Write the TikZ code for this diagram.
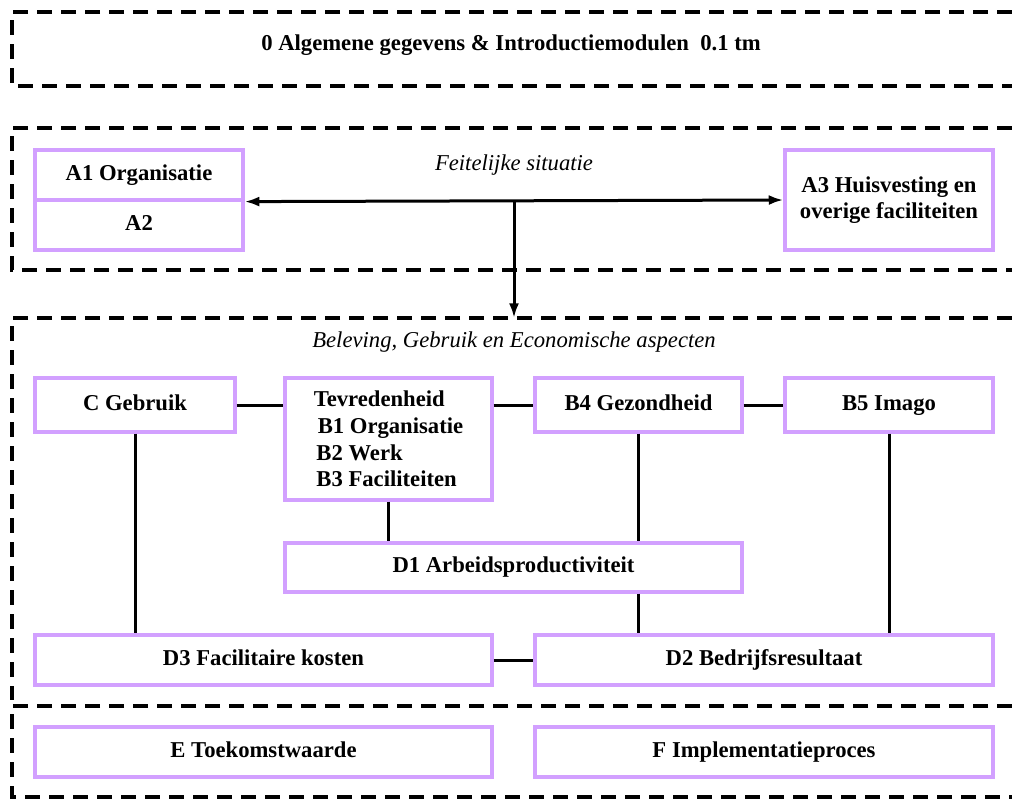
\documentclass[tikz,border=0pt]{standalone}
\usepackage{fontspec}
\setmainfont{Liberation Serif}
\usetikzlibrary{arrows.meta}
\definecolor{boxpurple}{RGB}{210,160,255}

\begin{document}
\begin{tikzpicture}[x=0.75pt,y=-0.75pt,
    font=\fontsize{17}{20}\selectfont,
    frame/.style={line width=3pt,dash pattern=on 11pt off 7pt},
    mbox/.style={draw=boxpurple,line width=2.4pt,rectangle,inner sep=0pt,
                 align=center,font=\fontsize{17}{20}\selectfont\bfseries},
    one/.style={mbox,text height=11.5pt,text depth=3.5pt},
    link/.style={line width=2.25pt},
    tip/.style={line width=2.25pt,#1},
    note/.style={font=\fontsize{17}{20}\selectfont\itshape}]
    \useasboundingbox (0,0) rectangle (1012,801);

    % frames
    \draw[frame] (1012,12) -- (12,12) -- (12,86) -- (1012,86);
    \draw[frame] (1012,128) -- (12,128) -- (12,270) -- (1012,270);
    \draw[frame] (1012,318) -- (12,318) -- (12,700);
    \draw[frame] (1012,706) -- (12,706) -- (12,797) -- (1012,797);

    \node[font=\fontsize{17}{20}\selectfont\bfseries] (title) at (511,45)
        {0 Algemene gegevens \& Introductiemodulen\ \ 0.1 tm};

    % feitelijke situatie
    \node[one,minimum width=208*0.75pt,minimum height=50*0.75pt] (A1) at (139,175) {A1 Organisatie};
    \node[one,minimum width=208*0.75pt,minimum height=50*0.75pt] (A2) at (139,225) {A2};
    \node[mbox,minimum width=208*0.75pt,minimum height=100*0.75pt] (A3) at (889,200)
        {A3 Huisvesting en\\overige faciliteiten};
    \node[note] (feit) at (514,165) {Feitelijke situatie};
    \coordinate (fb) at (514,318);

    \draw[tip={{Latex[length=11pt,width=7.5pt]}-{Latex[length=11pt,width=7.5pt]}}] (A1.south east) -- (A3.west);
    \draw[tip={-{Latex[length=11pt,width=7.5pt]}}] (fb |- A3.west) -- (fb);

    % beleving, gebruik en economische aspecten
    \node[note] (bel) at (514,342) {Beleving, Gebruik en Economische aspecten};
    \node[one,minimum width=200*0.75pt,minimum height=54*0.75pt] (Cg) at (135,405) {C Gebruik};
    \node[mbox,minimum width=207*0.75pt,minimum height=122*0.75pt,align=left] (Tev) at (388.5,439)
        {Tevredenheid\\\hspace{3pt}B1 Organisatie\\\hspace{2pt}B2 Werk\\\hspace{2pt}B3 Faciliteiten};
    \node[one,minimum width=207*0.75pt,minimum height=54*0.75pt] (B4) at (638.5,405) {B4 Gezondheid};
    \node[one,minimum width=208*0.75pt,minimum height=54*0.75pt] (B5) at (889,405) {B5 Imago};
    \node[one,minimum width=457*0.75pt,minimum height=49*0.75pt] (D1) at (513.5,567.5) {D1 Arbeidsproductiviteit};
    \node[one,minimum width=457*0.75pt,minimum height=50*0.75pt] (D3) at (263.5,660) {D3 Facilitaire kosten};
    \node[one,minimum width=458*0.75pt,minimum height=50*0.75pt] (D2) at (764,660) {D2 Bedrijfsresultaat};

    \draw[link] (Cg.east) -- (Cg.east -| Tev.west);
    \draw[link] (Cg.east -| Tev.east) -- (B4.west);
    \draw[link] (B4.east) -- (B5.west);
    \draw[link] (Tev.south) -- (Tev.south |- D1.north);
    \draw[link] (B4.south) -- (B4.south |- D1.north);
    \draw[link] (D1.south -| B4.south) -- (D2.north -| B4.south);
    \draw[link] (Cg.south) -- (Cg.south |- D3.north);
    \draw[link] (B5.south) -- (B5.south |- D2.north);
    \draw[link] (D3.east) -- (D2.west);

    % toekomst
    \node[one,minimum width=457*0.75pt,minimum height=50*0.75pt] (E) at (263.5,752) {E Toekomstwaarde};
    \node[one,minimum width=458*0.75pt,minimum height=50*0.75pt] (F) at (764,752) {F Implementatieproces};

\end{tikzpicture}
\end{document}
